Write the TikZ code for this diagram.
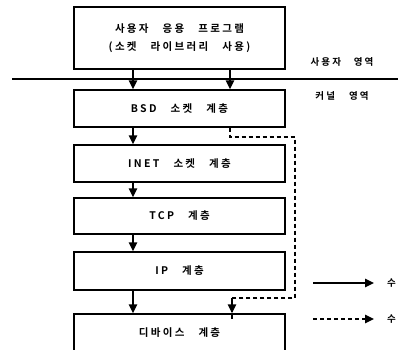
\documentclass[tikz,border=0pt]{standalone}
\usepackage{fontspec}
\newfontfamily\kr[LetterSpace=22, WordSpace=3]{Noto Sans CJK KR Bold}
\usetikzlibrary{arrows.meta}
\tikzset{
  layer/.style={draw=black, line width=1.4pt, minimum width=211pt, inner sep=0pt, font=\kr\fontsize{10.5}{12}\selectfont},
  arr/.style={line width=1.4pt, -{Triangle[length=9pt,width=8.5pt]}},
  darr/.style={line width=1.4pt, dash pattern=on 4pt off 3pt, -{Triangle[length=9pt,width=8.5pt]}},
  dline/.style={line width=1.4pt, dash pattern=on 4pt off 3pt},
  lbl/.style={font=\kr\fontsize{9.5}{11}\selectfont, inner sep=0pt}
}
\begin{document}
\begin{tikzpicture}[x=1pt,y=-1pt]
\useasboundingbox (0,0) rectangle (398,349);
\node[layer, minimum height=62pt, align=center] (top) at (179.5,38)
  {사용자 응용 프로그램\\[6pt](소켓 라이브러리 사용)};
\node[layer, minimum height=37pt] (bsd) at (179.5,108.5) {BSD 소켓 계층};
\node[layer, minimum height=37pt] (inet) at (179.5,163.5) {INET 소켓 계층};
\node[layer, minimum height=36pt] (tcp) at (179.5,216) {TCP 계층};
\node[layer, minimum height=38pt] (ip) at (179.5,271) {IP 계층};
\node[layer, minimum height=37pt] (dev) at (179.5,332.5) {디바이스 계층};
\coordinate (L) at (133,0);
\coordinate (R) at (230,0);
\coordinate (R2) at (232,0);
\coordinate (d1) at (295,137);
\coordinate (d2) at (295,298);
% separator
\coordinate (s1) at (12,79);
\coordinate (s2) at (398,79);
\draw[line width=1.4pt] (s1) -- (s2);
\node[lbl] (ua) at (342,62) {사용자 영역};
\node[lbl] (ka) at (342,96) {커널\hspace{14pt}영역};
% arrows
\draw[arr] (top.south -| L) -- (bsd.north -| L);
\draw[arr] (top.south -| R) -- (bsd.north -| R);
\draw[arr] (bsd.south -| L) -- (inet.north -| L);
\draw[arr] (inet.south -| L) -- (tcp.north -| L);
\draw[arr] (tcp.south -| L) -- (ip.north -| L);
\draw[arr] (ip.south -| L) -- (dev.north -| L);
\draw[dline] (bsd.south -| R) |- (d1) -- (d2) -| ([yshift=-6pt]dev.north -| R2);
\draw[darr] (d2 -| R2) -- (dev.north -| R2);
% legend
\coordinate (a1) at (313,283);
\coordinate (a2) at (374,283);
\coordinate (b1) at (313,319);
\coordinate (b2) at (374,319);
\draw[arr] (a1) -- (a2);
\draw[darr] (b1) -- (b2);
\node[lbl, anchor=west] (t1) at (387,283) {수};
\node[lbl, anchor=west] (t2) at (387,319) {수};
\end{tikzpicture}
\end{document}
